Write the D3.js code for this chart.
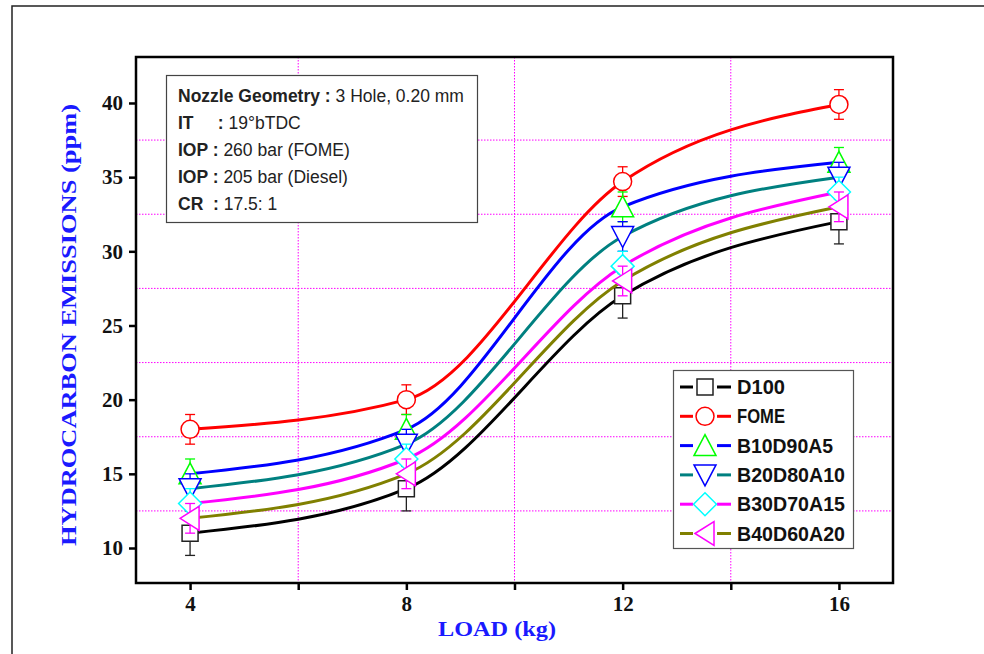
<!DOCTYPE html>
<html>
<head>
<meta charset="utf-8">
<script src="https://cdn.jsdelivr.net/npm/d3@7"></script>
<style>
  body { margin: 0; background: #fff; }
  svg { display: block; }
</style>
</head>
<body>
<script>
// data
var loads = [4, 8, 12, 16];
var seriesNames = ["D100", "FOME", "B10D90A5", "B20D80A10", "B30D70A15", "B40D60A20"];
var d100 = [11, 14, 27, 32];
var fome = [18, 20, 34.7, 39.9];
var b10 = [15, 18, 33, 36];
var b20 = [14, 17, 31, 35];
var b30 = [13, 16, 29, 34];
var b40 = [12, 15, 28, 33];
var errs = [1.5, 1, 1, 1, 1, 1];
var yTicks = [10, 15, 20, 25, 30, 35, 40];
var xTicks = [4, 8, 12, 16];
var infoLines = [
  ["Nozzle Geometry : ", "3 Hole, 0.20 mm"],
  ["IT     : ", "19\u00b0bTDC"],
  ["IOP : ", "260 bar (FOME)"],
  ["IOP : ", "205 bar (Diesel)"],
  ["CR  : ", "17.5: 1"]
];

// styles
var lineColors = ["#000000", "#ff0000", "#0000ff", "#008080", "#ff00ff", "#808000"];
var markColors = ["#222222", "#ff0000", "#00ff00", "#0000ff", "#00ffff", "#ff00ff"];
var shapes = ["square", "circle", "up", "down", "diamond", "left"];

var allSeries = [d100, fome, b10, b20, b30, b40];

var width = 984, height = 654;
var svg = d3.select("body").append("svg")
    .attr("width", width)
    .attr("height", height);

// outer frame of the figure
svg.append("path")
    .attr("d", "M12," + height + "V6H" + width)
    .attr("fill", "none")
    .attr("stroke", "#222")
    .attr("stroke-width", 1.5);

var pLeft = 136, pRight = 893, pTop = 57, pBottom = 583;

var x = d3.scaleLinear().domain([3, 17]).range([pLeft, pRight]);
var y = d3.scaleLinear().domain([7.64, 43.1]).range([pBottom, pTop]);

// dotted grid at the minor positions
var g = svg.append("g");
g.selectAll(".gx")
    .data([6, 10, 14])
    .enter().append("line")
    .attr("x1", function(d) { return x(d); })
    .attr("x2", function(d) { return x(d); })
    .attr("y1", pTop).attr("y2", pBottom)
    .attr("stroke", "#ff00ff")
    .attr("stroke-width", 1)
    .attr("stroke-dasharray", "1.5,1.5");
g.selectAll(".gy")
    .data([12.5, 17.5, 22.5, 27.5, 32.5, 37.5])
    .enter().append("line")
    .attr("y1", function(d) { return y(d); })
    .attr("y2", function(d) { return y(d); })
    .attr("x1", pLeft).attr("x2", pRight)
    .attr("stroke", "#ff00ff")
    .attr("stroke-width", 1)
    .attr("stroke-dasharray", "1.5,1.5");

// axes
var xAxis = d3.axisBottom(x).tickValues([4, 6, 8, 10, 12, 14, 16])
    .tickFormat(function(d) { return xTicks.indexOf(d) >= 0 ? d : ""; })
    .tickSize(7).tickPadding(6);
var yAxis = d3.axisLeft(y).tickValues(yTicks).tickSize(7).tickPadding(6);

var gx = svg.append("g").attr("transform", "translate(0," + pBottom + ")").call(xAxis);
var gy = svg.append("g").attr("transform", "translate(" + pLeft + ",0)").call(yAxis);
[gx, gy].forEach(function(a) {
  a.attr("font-size", null).attr("font-family", null);
  a.select(".domain").remove();
  a.selectAll(".tick line").attr("stroke", "#000").attr("stroke-width", 2.5);
  a.selectAll(".tick text")
    .attr("fill", "#111")
    .style("font-family", "'Liberation Serif', serif")
    .style("font-weight", "600")
    .style("font-size", "21px");
});

// frame of the plot
svg.append("rect")
    .attr("x", pLeft).attr("y", pTop)
    .attr("width", pRight - pLeft).attr("height", pBottom - pTop)
    .attr("fill", "none")
    .attr("stroke", "#000")
    .attr("stroke-width", 2.5);

// axis titles
svg.append("text")
    .attr("x", 497).attr("y", 636)
    .attr("text-anchor", "middle")
    .attr("fill", "#1a1aff")
    .attr("textLength", 118)
    .attr("lengthAdjust", "spacingAndGlyphs")
    .style("font-family", "'Liberation Serif', serif")
    .style("font-weight", "bold")
    .style("font-size", "22px")
    .text("LOAD (kg)");
svg.append("text")
    .attr("transform", "translate(76,325) rotate(-90)")
    .attr("text-anchor", "middle")
    .attr("fill", "#1a1aff")
    .attr("textLength", 442)
    .attr("lengthAdjust", "spacingAndGlyphs")
    .style("font-family", "'Liberation Serif', serif")
    .style("font-weight", "bold")
    .style("font-size", "22px")
    .text("HYDROCARBON EMISSIONS (ppm)");

// marker shapes
function markerPath(shape) {
  switch (shape) {
    case "square": return "M-8,-8H8V8H-8Z";
    case "circle": return "M9,0A9,9 0 1,1 -9,0A9,9 0 1,1 9,0Z";
    case "up": return "M0,-11L11,10H-11Z";
    case "down": return "M0,11L11,-10H-11Z";
    case "diamond": return "M0,-11.5L11.5,0L0,11.5L-11.5,0Z";
    case "left": return "M-10,0L9,-12V12Z";
  }
}

var line = d3.line()
    .x(function(d) { return x(d.load); })
    .y(function(d) { return y(d.v); })
    .curve(d3.curveMonotoneX);

allSeries.forEach(function(vals, i) {
  var pts = loads.map(function(l, j) { return { load: l, v: vals[j] }; });
  var s = svg.append("g");

  s.append("path")
      .datum(pts)
      .attr("d", line)
      .attr("fill", "none")
      .attr("stroke", lineColors[i])
      .attr("stroke-width", 3);

  // error bars
  var eb = s.selectAll(".eb").data(pts).enter().append("g")
      .attr("stroke", markColors[i])
      .attr("stroke-width", 1.3);
  eb.append("line")
      .attr("x1", function(d) { return x(d.load); })
      .attr("x2", function(d) { return x(d.load); })
      .attr("y1", function(d) { return y(d.v - errs[i]); })
      .attr("y2", function(d) { return y(d.v + errs[i]); });
  [-1, 1].forEach(function(sg) {
    eb.append("line")
        .attr("x1", function(d) { return x(d.load) - 5; })
        .attr("x2", function(d) { return x(d.load) + 5; })
        .attr("y1", function(d) { return y(d.v + sg * errs[i]); })
        .attr("y2", function(d) { return y(d.v + sg * errs[i]); });
  });

  s.selectAll(".mk").data(pts).enter().append("path")
      .attr("transform", function(d) { return "translate(" + x(d.load) + "," + y(d.v) + ")"; })
      .attr("d", markerPath(shapes[i]))
      .attr("fill", "#fff")
      .attr("stroke", markColors[i])
      .attr("stroke-width", 1.5);
});

// info box
var info = svg.append("g");
info.append("rect")
    .attr("x", 166.5).attr("y", 75.5)
    .attr("width", 311).attr("height", 147)
    .attr("fill", "#fff")
    .attr("stroke", "#444")
    .attr("stroke-width", 1.2);
infoLines.forEach(function(l, i) {
  var t = info.append("text")
      .attr("x", 178).attr("y", 102 + i * 27)
      .attr("fill", "#222")
      .style("font-family", "'Liberation Sans', sans-serif")
      .style("font-size", "17.5px")
      .attr("xml:space", "preserve");
  t.append("tspan").style("font-weight", "bold").text(l[0]);
  t.append("tspan").text(l[1]);
});

// legend
var leg = svg.append("g");
leg.append("rect")
    .attr("x", 673.5).attr("y", 370.5)
    .attr("width", 180).attr("height", 178)
    .attr("fill", "#fff")
    .attr("stroke", "#555")
    .attr("stroke-width", 1.2);
seriesNames.forEach(function(name, i) {
  var cy = 387 + i * 29.3;
  var r = leg.append("g");
  r.append("line").attr("x1", 680).attr("x2", 693).attr("y1", cy).attr("y2", cy)
      .attr("stroke", lineColors[i]).attr("stroke-width", 3);
  r.append("line").attr("x1", 717).attr("x2", 731).attr("y1", cy).attr("y2", cy)
      .attr("stroke", lineColors[i]).attr("stroke-width", 3);
  r.append("path")
      .attr("transform", "translate(705," + cy + ")")
      .attr("d", markerPath(shapes[i]))
      .attr("fill", "#fff")
      .attr("stroke", markColors[i])
      .attr("stroke-width", 1.5);
  r.append("text")
      .attr("x", 737).attr("y", cy + 7)
      .attr("fill", "#111")
      .attr("textLength", name.length * 12)
      .attr("lengthAdjust", "spacingAndGlyphs")
      .style("font-family", "'Liberation Sans', sans-serif")
      .style("font-weight", "bold")
      .style("font-size", "19.5px")
      .text(name);
});
</script>
</body>
</html>
